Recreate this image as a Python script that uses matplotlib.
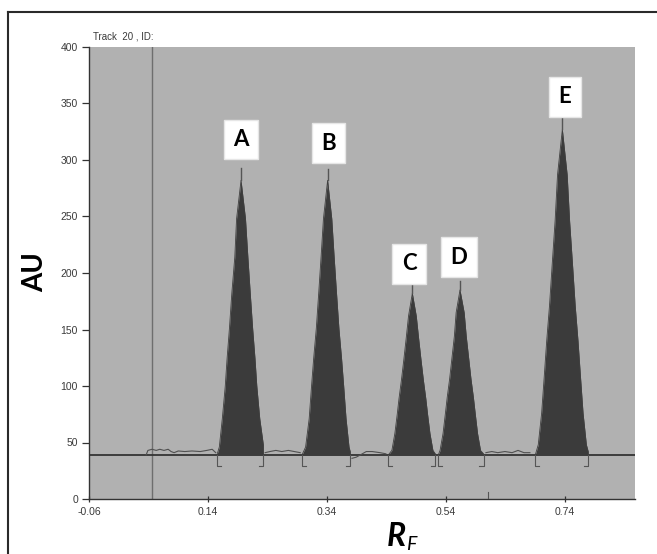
import matplotlib
matplotlib.use("Agg")
import matplotlib.pyplot as plt
from matplotlib.lines import Line2D

# ---------------- data ----------------
baseline_au = 39

peak_names = ["A", "B", "C", "D", "E"]

peakA_rf = [0.155, 0.159, 0.164, 0.169, 0.172, 0.176, 0.180, 0.185, 0.188, 0.1955, 0.203, 0.207, 0.211, 0.215, 0.219, 0.222, 0.227, 0.233, 0.233]
peakA_au = [39, 46, 71, 100, 124, 151, 182, 214, 248, 282, 248, 214, 182, 151, 124, 100, 71, 48, 39]

peakB_rf = [0.298, 0.304, 0.310, 0.314, 0.3175, 0.322, 0.326, 0.330, 0.334, 0.341, 0.348, 0.352, 0.356, 0.360, 0.3645, 0.368, 0.372, 0.377, 0.379, 0.379]
peakB_au = [39, 46, 71, 100, 124, 151, 182, 214, 248, 282, 248, 214, 182, 151, 124, 100, 71, 46, 42, 39]

peakC_rf = [0.443, 0.449, 0.454, 0.458, 0.461, 0.465, 0.469, 0.473, 0.477, 0.4834, 0.490, 0.494, 0.498, 0.502, 0.506, 0.509, 0.513, 0.518, 0.522, 0.522]
peakC_au = [39, 43, 58, 75, 89, 105, 123, 142, 162, 182, 162, 142, 123, 105, 89, 75, 58, 43, 40, 39]

peakD_rf = [0.527, 0.530, 0.535, 0.539, 0.542, 0.546, 0.550, 0.554, 0.557, 0.5635, 0.5705, 0.574, 0.578, 0.582, 0.586, 0.589, 0.593, 0.598, 0.603, 0.603]
peakD_au = [39, 43, 58, 76, 90, 106, 125, 144, 165, 185, 165, 144, 125, 106, 90, 76, 58, 43, 40, 39]

peakE_rf = [0.690, 0.695, 0.7007, 0.7054, 0.7092, 0.7139, 0.7186, 0.7233, 0.7274, 0.7355, 0.7436, 0.7477, 0.7524, 0.7571, 0.7618, 0.7656, 0.7703, 0.7759, 0.779, 0.779]
peakE_au = [39, 48, 76, 111, 140, 171, 209, 246, 287, 327, 287, 246, 209, 171, 140, 111, 76, 48, 42, 39]

spike_tops = [293, 292, 191, 193, 337]

label_rf = [0.196, 0.342, 0.478, 0.562, 0.740]
label_au = [318, 315, 208, 214, 356]

# noisy densitometer trace between peaks
noise1_rf = [0.036, 0.039, 0.046, 0.053, 0.059, 0.066, 0.073, 0.078, 0.083, 0.090, 0.101, 0.113, 0.127, 0.138, 0.147, 0.153]
noise1_au = [39, 43, 44, 43, 44, 43, 44, 42, 41, 42.5, 42, 42.5, 42, 43, 44, 41]
noise2_rf = [0.236, 0.244, 0.254, 0.264, 0.275, 0.285, 0.295]
noise2_au = [41, 42, 43, 42, 43, 42, 41]
noise3_rf = [0.382, 0.389, 0.396, 0.406, 0.416, 0.429, 0.439]
noise3_au = [36, 37, 39, 42, 42, 41, 40]
noise4_rf = [0.607, 0.617, 0.627, 0.639, 0.651, 0.661, 0.671, 0.681]
noise4_au = [41, 42, 41, 42, 41, 43, 41, 41]

start_line_rf = 0.046
front_mark_rf = [0.611]

x_ticks = [-0.06, 0.14, 0.34, 0.54, 0.74]
x_ticklabels = ["-0.06", "0.14", "0.34", "0.54", "0.74"]
y_ticks = [0, 50, 100, 150, 200, 250, 300, 350, 400]

# ---------------- figure ----------------
W, H = 657, 554
fig = plt.figure(figsize=(W / 100, H / 100), dpi=100)
fig.patch.set_facecolor("white")

ax = fig.add_axes([89 / W, 55 / H, 546 / W, 452 / H])
ax.set_facecolor("#b1b1b1")
ax.set_xlim(-0.06, 0.8576)
ax.set_ylim(0, 400)

dark = "#3b3b3b"
peaks = [(peakA_rf, peakA_au), (peakB_rf, peakB_au), (peakC_rf, peakC_au),
         (peakD_rf, peakD_au), (peakE_rf, peakE_au)]

# start line
ax.axvline(start_line_rf, color="#6e6e6e", lw=1.0, zorder=1)

# baseline
ax.axhline(baseline_au, color="#333333", lw=1.3, zorder=2)

# noise traces
for xs, ys in [(noise1_rf, noise1_au), (noise2_rf, noise2_au),
               (noise3_rf, noise3_au), (noise4_rf, noise4_au)]:
    ax.plot(xs, ys, color="#505050", lw=0.8, zorder=3)

for (xs, ys), top in zip(peaks, spike_tops):
    ax.fill_between(xs, baseline_au, ys, color=dark, lw=0, zorder=3)
    ax.plot(xs, ys, color="#404040", lw=0.6, zorder=3)
    i = ys.index(max(ys))
    ax.plot([xs[i], xs[i]], [ys[i], top], color="#555555", lw=1.0, zorder=3)
    # integration brackets
    s, e = xs[0], xs[-1]
    ax.plot([s, s, s + 0.007], [baseline_au, 29, 29], color="#555555", lw=0.8, zorder=3)
    ax.plot([e, e, e - 0.007], [baseline_au, 29, 29], color="#555555", lw=0.8, zorder=3)

for xm in front_mark_rf:
    ax.plot([xm, xm], [0, 6], color="#555555", lw=0.8, zorder=3)

# peak labels
for name, lx, ly in zip(peak_names, label_rf, label_au):
    ax.text(lx, ly, name, ha="center", va="center", fontsize=16, fontweight="bold",
            family="Lato", color="black", zorder=5,
            bbox=dict(boxstyle="square,pad=0.42", fc="white", ec="#e6e6e6", lw=1.0))

# axes styling
for side in ["top", "right"]:
    ax.spines[side].set_visible(False)
for side in ["left", "bottom"]:
    ax.spines[side].set_color("#333333")
    ax.spines[side].set_linewidth(1.0)

ax.set_xticks(x_ticks)
ax.set_xticklabels(x_ticklabels)
ax.set_yticks(y_ticks)
ax.tick_params(axis="y", direction="out", length=5, width=0.9, color="#333333",
               labelsize=7.5, labelcolor="#3a3a3a", pad=3)
ax.tick_params(axis="x", direction="inout", length=5, width=0.9, color="#333333",
               labelsize=7.5, labelcolor="#3a3a3a", pad=3)
for lab in ax.get_xticklabels() + ax.get_yticklabels():
    lab.set_family("Liberation Sans")

ax.text(0.008, 1.012, "Track  20 , ID:", transform=ax.transAxes, fontsize=7,
        family="Liberation Sans", color="#3a3a3a", ha="left", va="bottom")

# axis titles
fig.text(35 / W, 1 - 272 / H, "AU", rotation=90, ha="center", va="center",
         fontsize=20, fontweight="bold", family="Lato", color="black")
fig.text(406 / W, 1 - 537 / H, "R", ha="right", va="center", fontsize=23,
         fontweight="bold", style="italic", family="Lato", color="black")
fig.text(406 / W, 1 - 544 / H, "F", ha="left", va="center", fontsize=14,
         style="italic", family="Lato", color="black")

# outer frame (left and top edges)
fig.add_artist(Line2D([8 / W, 8 / W], [0, 1 - 12 / H], transform=fig.transFigure,
                      color="#2a2a2a", lw=1.5))
fig.add_artist(Line2D([8 / W, 1], [1 - 12 / H, 1 - 12 / H], transform=fig.transFigure,
                      color="#2a2a2a", lw=1.5))

fig.savefig("out.png", dpi=100)
